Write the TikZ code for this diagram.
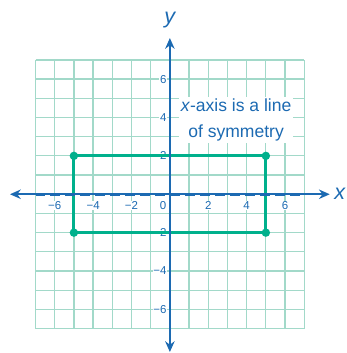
\documentclass[tikz,border=0pt]{standalone}
\usepackage{fontspec}
\setmainfont{Liberation Sans}
\usepackage{xcolor}
\usepackage{tikz}
\usetikzlibrary{arrows.meta}

\definecolor{gridteal}{RGB}{162,217,201}
\definecolor{rectgreen}{RGB}{0,176,140}
\definecolor{axisblue}{RGB}{28,106,178}

\tikzset{
  ticklab/.style={text=axisblue, fill=white, inner sep=0.6pt, font=\fontsize{8.5}{10}\selectfont},
  axislab/.style={text=axisblue, font=\fontsize{16}{18}\selectfont\itshape}
}

\begin{document}
\begin{tikzpicture}[x=0.5cm,y=0.5cm]
\useasboundingbox (-8.85,-8.27) rectangle (9.22,10.12);
\draw[gridteal, line width=0.9pt, step=1] (-7,-7) grid (7,7);

\node[fill=white, inner sep=1.5pt, align=center, text=axisblue,
  font=\fontsize{13}{19}\selectfont] (note) at (3.45,3.87) {\textit{x}-axis is a line\\of symmetry};

% tick labels
\foreach \x/\t in {-6/−6,-4/−4,-2/−2,2/2,4/4,6/6}
  \node[ticklab] (xt\x) at (\x,-0.58) {\t};
\node[ticklab] (xt0) at (-0.36,-0.58) {0};
\foreach \y/\t in {-6/−6,-4/−4,-2/−2,2/2,4/4,6/6}
  \node[ticklab, anchor=east] (yt\y) at (-0.12,\y) {\t};

% rectangle
\draw[rectgreen, line width=2.2pt] (-5,-2) rectangle (5,2);
\foreach \p in {(-5,2),(5,2),(5,-2),(-5,-2)}
  \fill[rectgreen] \p circle (0.22);

% axes
\draw[axisblue, line width=1.4pt, {Stealth[length=8pt,width=7pt]}-{Stealth[length=8pt,width=7pt]}] (-8.33,0) -- (8.33,0);
\draw[axisblue, line width=2.2pt, dash pattern=on 7.4pt off 3.7pt] (-7,0) -- (7,0);
\draw[axisblue, line width=1.4pt, {Stealth[length=8pt,width=7pt]}-{Stealth[length=8pt,width=7pt]}] (0,-8.22) -- (0,8.14);

\node[axislab] (xlab) at (8.85,0) {x};
\node[axislab] (ylab) at (0,9.07) {y};
\end{tikzpicture}
\end{document}
